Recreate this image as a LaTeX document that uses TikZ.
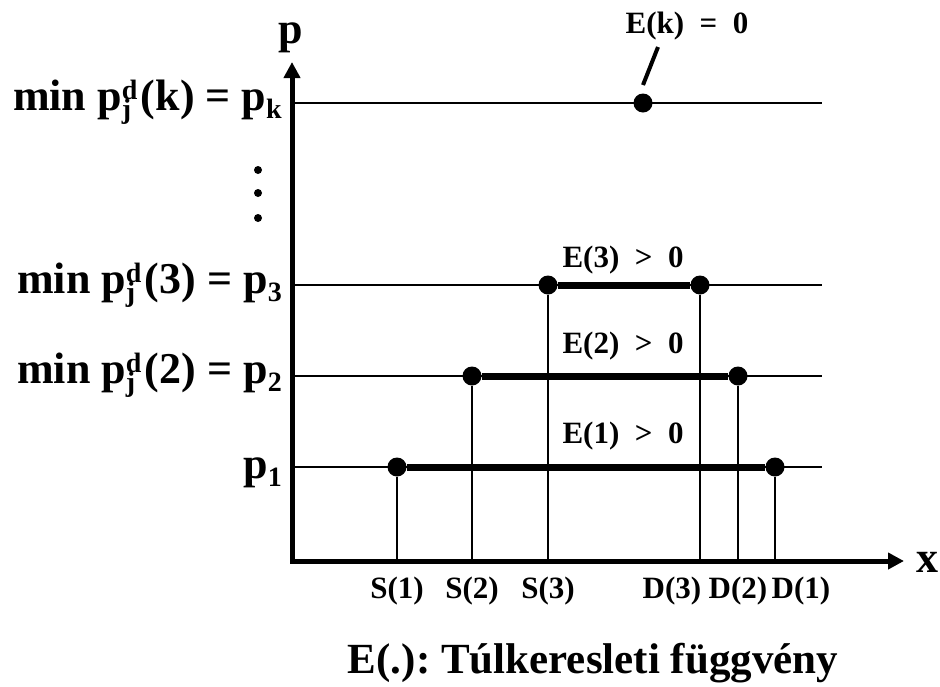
\documentclass[tikz,border=0pt]{standalone}
\usepackage{fontspec}
\setmainfont{Liberation Serif}
\usetikzlibrary{arrows.meta}

% p with stacked d (upper) and j (lower)
\newcommand{\pdj}{p\rlap{\raisebox{0.25em}{\fontsize{28}{28}\selectfont d}}\raisebox{-0.2em}{\fontsize{28}{28}\selectfont j}\hspace{0.22em}}
\newcommand{\alsoindex}[1]{\raisebox{-0.2em}{\fontsize{28}{28}\selectfont #1}}

\tikzset{
  pont/.style={circle, fill=black, inner sep=0pt, minimum size=19pt},
  kispont/.style={circle, fill=black, inner sep=0pt, minimum size=8pt},
  vekony/.style={line width=2pt},
  vastag/.style={line width=7pt},
  tengely/.style={line width=5pt, line cap=rect, -{Triangle[length=16pt,width=16pt]}},
  felirat/.style={font=\fontsize{31}{31}\selectfont\bfseries, inner sep=0pt},
  nagy/.style={font=\fontsize{44}{44}\selectfont\bfseries, inner sep=0pt},
}

\begin{document}
\frenchspacing
\begin{tikzpicture}[x=1pt, y=-1pt]
  %%%%% START %%%%%
  \useasboundingbox (0, 0) rectangle (940, 686);

  % axes
  \coordinate (O) at (292, 561);
  \coordinate (ytip) at (292, 62);
  \coordinate (xtip) at (904, 561);
  \draw[tengely] (O) -- (ytip);
  \draw[tengely] (O) -- (xtip);
  \node[nagy, anchor=base] (plabel) at (291, 43) {p};
  \node[nagy, anchor=base] (xlabel) at (927, 572) {x};

  % price levels
  \foreach \nev/\y in {k/103, 3/285, 2/376, 1/467} {
    \coordinate (l\nev) at (292, \y);
    \coordinate (r\nev) at (822, \y);
    \draw[vekony] (l\nev) -- (r\nev);
  }

  \node[nagy, anchor=base east] (labk) at (282, 110) {min \pdj(k) = p\alsoindex{k}};
  \node[nagy, anchor=base east] (lab3) at (282, 293) {min \pdj(3) = p\alsoindex{3}};
  \node[nagy, anchor=base east] (lab2) at (282, 383) {min \pdj(2) = p\alsoindex{2}};
  \node[nagy, anchor=base east] (lab1) at (282, 478) {p\alsoindex{1}};

  \node[kispont] (v1) at (258, 170) {};
  \node[kispont] (v2) at (258, 193) {};
  \node[kispont] (v3) at (258, 218) {};

  % supply and demand points
  \node[pont] (s1) at (397, 467) {};
  \node[pont] (d1) at (775, 467) {};
  \node[pont] (s2) at (472, 376) {};
  \node[pont] (d2) at (738, 376) {};
  \node[pont] (s3) at (548, 285) {};
  \node[pont] (d3) at (700, 285) {};
  \node[pont] (dk) at (643, 103) {};

  \draw[vastag] (s1) -- (d1);
  \draw[vastag] (s2) -- (d2);
  \draw[vastag] (s3) -- (d3);

  \foreach \p in {s1, d1, s2, d2, s3, d3} {
    \coordinate (\p a) at (\p |- O);
    \draw[vekony] (\p) -- (\p a);
  }

  \node[felirat, anchor=base] (ls1) at (397, 598) {S(1)};
  \node[felirat, anchor=base] (ls2) at (472, 598) {S(2)};
  \node[felirat, anchor=base] (ls3) at (548, 598) {S(3)};
  \node[felirat, anchor=base] (ld3) at (672, 598) {D(3)};
  \node[felirat, anchor=base] (ld2) at (738, 598) {D(2)};
  \node[felirat, anchor=base] (ld1) at (801, 598) {D(1)};

  % excess demand
  \node[felirat, anchor=base] (ek) at (687, 33) {E(k) \ = \ 0};
  \coordinate (ekvege) at (658, 47);
  \coordinate (dkvege) at (643, 85);
  \draw[line width=4pt] (ekvege) -- (dkvege);
  \node[felirat, anchor=base] (e3) at (623, 267) {E(3) \ > \ 0};
  \node[felirat, anchor=base] (e2) at (623, 353) {E(2) \ > \ 0};
  \node[felirat, anchor=base] (e1) at (623, 443) {E(1) \ > \ 0};

  \node[font=\fontsize{43}{43}\selectfont\bfseries, inner sep=0pt, anchor=base] (cim) at (593, 673) {E(.): Túlkeresleti függvény};
  %%%%% END %%%%%
\end{tikzpicture}
\end{document}
